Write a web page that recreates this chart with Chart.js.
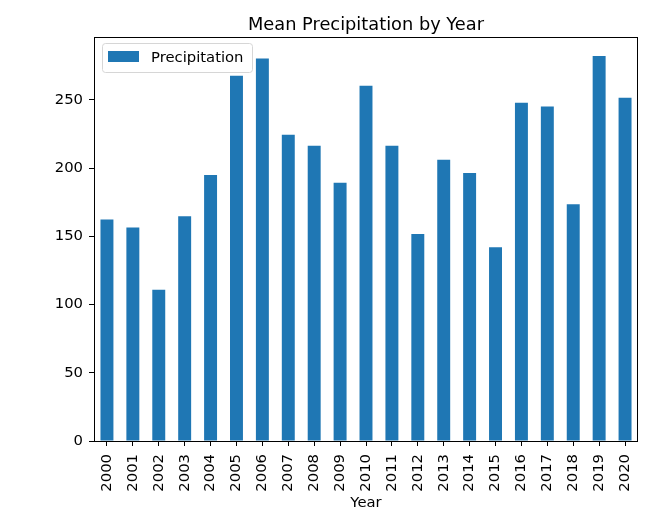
<!DOCTYPE html>
<html>
<head>
  <script src="https://cdn.jsdelivr.net/npm/chart.js"></script>
  <title>Mean Precipitation by Year</title>
  <style>
    body { margin: 0; background: #fff; }
    #wrap { width: 660px; height: 521px; }
  </style>
</head>
<body>
  <div id="wrap"><canvas id="chart" width="660" height="521"></canvas></div>

  <script>
    // data
    let years = ['2000', '2001', '2002', '2003', '2004', '2005', '2006', '2007', '2008', '2009', '2010',
                 '2011', '2012', '2013', '2014', '2015', '2016', '2017', '2018', '2019', '2020'];
    let precipitation = [162.2, 156.5, 110.9, 164.6, 194.9, 267.6, 280.2, 224.4, 216.3, 189.2, 260.2,
                         216.3, 151.7, 206.1, 196.3, 141.9, 247.8, 245.1, 173.4, 282.0, 251.5];
    let yTicks = [0, 50, 100, 150, 200, 250];
    let chartTitle = 'Mean Precipitation by Year';

    const FONT = 'DejaVu Sans';
    const SIZE = 14.8;

    // frame, title over the axes and a legend box inside them (matplotlib look)
    const framePlugin = {
      id: 'frame',
      afterDraw(chart) {
        const { ctx, chartArea: a } = chart;
        ctx.save();
        ctx.strokeStyle = '#000';
        ctx.lineWidth = 1;
        ctx.strokeRect(a.left + 0.5, a.top + 0.5, a.right - a.left - 1, a.bottom - a.top);

        // title, centred on the plot area
        ctx.fillStyle = '#000';
        ctx.font = '17.8px "' + FONT + '"';
        ctx.textAlign = 'center';
        ctx.textBaseline = 'alphabetic';
        ctx.fillText(chartTitle, (a.left + a.right) / 2, 30);

        // legend
        const ds = chart.data.datasets[0];
        const x = a.left + 8, y = a.top + 6, w = 150, h = 29;
        ctx.beginPath();
        ctx.roundRect(x + 0.5, y + 0.5, w, h, 3);
        ctx.fillStyle = 'rgba(255,255,255,0.8)';
        ctx.fill();
        ctx.strokeStyle = '#d6d6d6';
        ctx.stroke();
        ctx.fillStyle = ds.backgroundColor;
        ctx.fillRect(x + 6, y + 8, 31, 11);
        ctx.fillStyle = '#000';
        ctx.font = SIZE + 'px "' + FONT + '"';
        ctx.textAlign = 'left';
        ctx.textBaseline = 'alphabetic';
        ctx.fillText(ds.label, x + 49, y + 19);
        ctx.restore();
      }
    };

    let ctx = document.getElementById('chart').getContext('2d');
    new Chart(ctx, {
      type: 'bar',
      data: {
        labels: years,
        datasets: [{
          label: 'Precipitation',
          data: precipitation,
          backgroundColor: '#1f77b4',
          borderWidth: 0,
          barPercentage: 0.5,
          categoryPercentage: 1.0
        }]
      },
      options: {
        responsive: false,
        animation: false,
        layout: { padding: { left: 0, right: 22, top: 37, bottom: 0 } },
        plugins: {
          legend: { display: false },
          tooltip: { enabled: false },
          title: { display: false }
        },
        scales: {
          x: {
            offset: true,
            border: { display: false },
            grid: { display: true, drawOnChartArea: false, drawTicks: true, tickLength: 5, color: '#000', offset: false },
            ticks: {
              color: '#000',
              font: { family: FONT, size: SIZE },
              minRotation: 90,
              maxRotation: 90,
              padding: 8
            },
            title: {
              display: true,
              text: 'Year',
              color: '#000',
              font: { family: FONT, size: SIZE },
              padding: { top: 4, bottom: 9 }
            },
            afterFit(scale) { scale.height = 80; }
          },
          y: {
            min: 0,
            max: 296,
            border: { display: false },
            grid: { display: true, drawOnChartArea: false, drawTicks: true, tickLength: 5, color: '#000' },
            ticks: {
              color: '#000',
              font: { family: FONT, size: SIZE },
              padding: 6,
              stepSize: 50
            },
            afterBuildTicks(scale) { scale.ticks = yTicks.map(v => ({ value: v })); },
            afterFit(scale) { scale.width = 94; }
          }
        }
      },
      plugins: [framePlugin]
    });
  </script>
</body>
</html>
